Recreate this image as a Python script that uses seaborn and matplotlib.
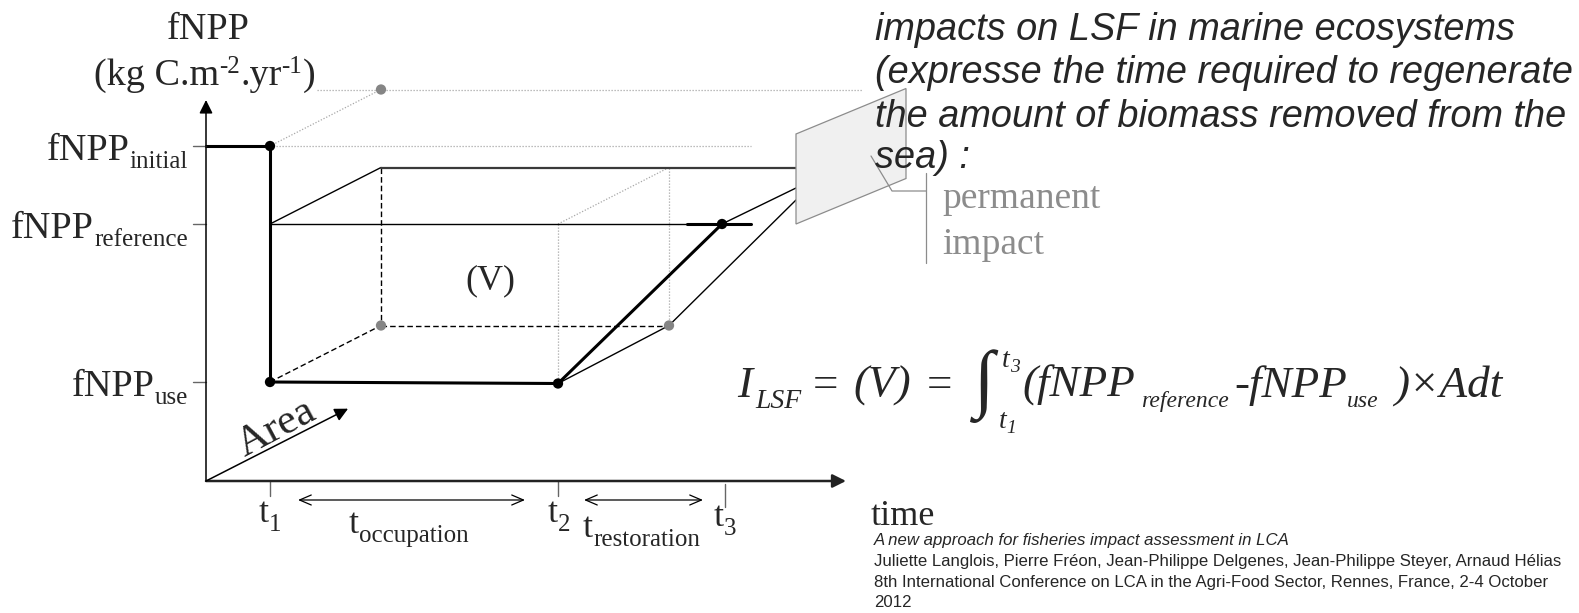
import matplotlib
matplotlib.use("Agg")
import numpy as np
import pandas as pd
import seaborn as sns
import matplotlib.pyplot as plt
from matplotlib.patches import Polygon

# ---------------- data (conceptual units) ----------------
time_names = ["1", "2", "3"]
time_values = [0.64, 3.52, 5.16]            # t1, t2, t3
level_names = ["initial", "reference", "use"]
level_values = [3.35, 2.57, 0.99]           # fNPP levels
use_level_at_t2 = 0.975
area_unit = 1.0
area_axis_length = 1.28
permanent_time = 5.90
permanent_plane_levels = [2.57, 3.47]
permanent_line_levels = [3.135, 2.93, 2.81]  # box top, front restoration, back restoration
x_axis_end = 6.40
y_axis_end = 3.81

para_lines = ["impacts on LSF in marine ecosystems",
              "(expresse the time required to regenerate",
              "the amount of biomass removed from the",
              "sea) :"]
cite_lines = ["A new approach for fisheries impact assessment in LCA",
              "Juliette Langlois, Pierre Fréon, Jean-Philippe Delgenes, Jean-Philippe Steyer, Arnaud Hélias",
              "8th International Conference on LCA in the Agri-Food Sector, Rennes, France, 2-4 October",
              "2012"]

# ---------------- style ----------------
W, H = 1579, 613
OX, OY, S = 206, 481, 100.0   # origin pixel and pixels per unit
AREA_DX, AREA_DY = 1.11, 0.565
PLANE_DX, PLANE_DY = 1.10, 0.455

sns.set_theme(style="white")
plt.rcParams["font.family"] = ["Liberation Serif", "DejaVu Serif"]
SERIF = ["Liberation Serif", "DejaVu Serif"]
SANS = ["Liberation Sans", "DejaVu Sans"]
NARROW = ["Liberation Sans Narrow", "Liberation Sans", "DejaVu Sans"]

fig = plt.figure(figsize=(W / 100, H / 100), dpi=100)
fig.patch.set_facecolor("white")
ax = fig.add_axes([0, 0, 1, 1])


def proj(t, f, a):
    return (t + AREA_DX * a, f + AREA_DY * a)


def px(x, y):
    return ((x - OX) / S, (OY - y) / S)


t1, t2, t3 = time_values
f_init, f_ref, f_use = level_values
tp = permanent_time

thick = dict(color="black", lw=2.2, solid_capstyle="round")
thin = dict(color="black", lw=1.0)
dotted = dict(color="#a8a8a8", lw=0.9, linestyle=(0, (1, 1.4)))
dashed = dict(color="black", lw=1.0, linestyle=(0, (4, 2.2)))


def seg(p, q, **kw):
    ax.plot([p[0], q[0]], [p[1], q[1]], **kw)


# dotted guides
seg((t1, f_init), (px(751, 0)[0], f_init), **dotted)
b_init = proj(t1, f_init, area_unit)
seg((px(317, 0)[0], b_init[1]), (px(862, 0)[0], b_init[1]), **dotted)
seg((t1, f_init), b_init, **dotted)
seg((t2, f_ref), (t2, use_level_at_t2), **dotted)
seg((t2, f_ref), proj(t2, f_ref, area_unit), **dotted)
seg(proj(t2, f_ref, area_unit), proj(t2, f_use, area_unit), **dotted)

# dashed hidden edges
seg(proj(t1, f_ref, area_unit), proj(t1, f_use, area_unit), **dashed)
seg(proj(t1, f_use, area_unit), proj(t2, f_use, area_unit), **dashed)
seg((t1, f_use), proj(t1, f_use, area_unit), **dashed)

# solid edges
seg((t1, f_ref), proj(t1, f_ref, area_unit), **thin)
seg((t1, f_ref), (px(751, 0)[0], f_ref), **thin)
seg((px(687, 0)[0], f_ref), (px(751, 0)[0], f_ref), color="black", lw=2.2)
seg(proj(t1, f_ref, area_unit), (tp, permanent_line_levels[0]), color="#3a3a3a", lw=1.6)
seg((t3, f_ref), (tp, permanent_line_levels[1]), **thin)
seg((t2, use_level_at_t2), proj(t2, f_use, area_unit), **thin)
seg(proj(t2, f_use, area_unit), (tp, permanent_line_levels[2]), **thin)

seg((0, f_init), (t1, f_init), **thick)
seg((t1, f_init), (t1, f_use), **thick)
seg((t1, f_use), (t2, use_level_at_t2), **thick)
seg((t2, use_level_at_t2), (t3, f_ref), **thick)

# permanent impact plane
plane = Polygon([(tp, permanent_plane_levels[0]), (tp, permanent_plane_levels[1]),
                 (tp + PLANE_DX, permanent_plane_levels[1] + PLANE_DY),
                 (tp + PLANE_DX, permanent_plane_levels[0] + PLANE_DY)],
                closed=True, facecolor="#f0f0f0", edgecolor="#8c8c8c", lw=0.9, zorder=3)
ax.add_patch(plane)

# leader lines for "permanent impact"
lead = [px(871, 156), px(892, 191), px(926, 191)]
ax.plot([p[0] for p in lead], [p[1] for p in lead], color="#8c8c8c", lw=0.9, zorder=4)
seg(px(926, 173), px(926, 263), color="#8c8c8c", lw=0.9, zorder=4)

# axes with arrows
ax.annotate("", xy=(0, y_axis_end), xytext=(0, 0),
            arrowprops=dict(arrowstyle="-|>", color="black", lw=1.1, mutation_scale=20,
                            shrinkA=0, shrinkB=0))
ax.annotate("", xy=(x_axis_end, 0), xytext=(0, 0),
            arrowprops=dict(arrowstyle="-|>", color="#222222", lw=1.8, mutation_scale=20,
                            shrinkA=0, shrinkB=0))
ax.annotate("", xy=proj(0, 0, area_axis_length), xytext=(0, 0),
            arrowprops=dict(arrowstyle="-|>", color="black", lw=1.1, mutation_scale=20,
                            shrinkA=0, shrinkB=0))

# ticks
for v in level_values:
    seg((-0.13, v), (0, v), color="#666666", lw=1.0)
for t in time_values[:2]:
    seg((t, 0), (t, -0.15), color="#666666", lw=1.0)
seg((t3 + 0.03, -0.03), (t3 + 0.03, -0.26), color="#666666", lw=1.0)

# double-headed duration arrows
for a, b in [(t1 + 0.28, t2 - 0.33), (t2 + 0.26, t3 - 0.19)]:
    ax.annotate("", xy=(b, -0.19), xytext=(a, -0.19),
                arrowprops=dict(arrowstyle="<->,head_length=0.7,head_width=0.3",
                                color="black", lw=0.9, shrinkA=0, shrinkB=0))

# points
pts = pd.DataFrame({
    "x": [t1, t1, t2, t3,
          proj(t1, f_init, area_unit)[0], proj(t1, f_use, area_unit)[0], proj(t2, f_use, area_unit)[0]],
    "y": [f_init, f_use, use_level_at_t2, f_ref,
          proj(t1, f_init, area_unit)[1], proj(t1, f_use, area_unit)[1], proj(t2, f_use, area_unit)[1]],
    "kind": ["state"] * 4 + ["projected"] * 3,
})
sns.scatterplot(data=pts, x="x", y="y", hue="kind",
                palette={"state": "black", "projected": "#858585"},
                s=55, edgecolor="none", legend=False, ax=ax, zorder=6)

ax.set_xlim(-OX / S, (W - OX) / S)
ax.set_ylim(-(H - OY) / S, OY / S)
ax.axis("off")

# ---------------- text ----------------
renderer = fig.canvas.get_renderer()


def put(x, y, s, size, **kw):
    kw.setdefault("va", "baseline")
    kw.setdefault("family", SERIF)
    return fig.text(x / W, 1 - y / H, s, fontsize=size, **kw)


def width(t):
    return t.get_window_extent(renderer=renderer).width


def seq(x, y, pieces, ha="left", **kw):
    texts = [put(0, y + dy, s, size, **kw) for s, size, dy in pieces]
    ws = [width(t) for t in texts]
    total = sum(ws)
    x0 = x if ha == "left" else (x - total if ha == "right" else x - total / 2)
    for t, w in zip(texts, ws):
        t.set_x(x0 / W)
        x0 += w
    return texts


def fit(t, target):
    t.set_fontsize(t.get_fontsize() * target / width(t))
    return t.get_fontsize()


MAIN, SUB = 27.5, 18

# y-axis title
seq(208, 39, [("fNPP", MAIN, 0)], ha="center")
seq(315, 85, [("(kg C.m", MAIN, 0), ("-2", SUB, -12), (".yr", MAIN, 0), ("-1", SUB, -12), (")", MAIN, 0)],
    ha="right")

# level labels
for name, v in zip(level_names, level_values):
    ypx = OY - v * S
    seq(188, ypx + 14, [("fNPP", MAIN, 0), (name, SUB, 8)], ha="right")

# time labels
seq(259, 522, [("t", 26, 0), (time_names[0], SUB, 9)])
seq(349, 533, [("t", 26, 0), ("occupation", SUB, 9)])
seq(548, 522, [("t", 26, 0), (time_names[1], SUB, 9)])
seq(583, 537, [("t", 26, 0), ("restoration", SUB, 9)])
seq(714, 526, [("t", 26, 0), (time_names[2], SUB, 9)])
put(871, 525, "time", 26)

put(490, 289, "(V)", 26, ha="center")
put(277, 428, "Area", 31, ha="center", va="center", rotation=28, rotation_mode="anchor")

# permanent impact
put(942, 208, "permanent", 27, color="#8c8c8c")
put(942, 254, "impact", 27, color="#8c8c8c")

# equation, assembled piece by piece
EQ, EQS = 32.5, 17
EQB = 397
put(737, EQB, "I", EQ, style="italic")
put(755, EQB + 11, "LSF", 20, style="italic")
put(813, EQB, "=", EQ)
put(853, EQB, "(V)", EQ, style="italic")
put(927, EQB, "=", EQ)
put(974, 386, "\u222b", 54, family=["Liberation Serif", "STIXGeneral", "DejaVu Serif"], va="center")
seq(1002, 367, [("t", 20, 0), ("3", 14, 5)], style="italic")
seq(999, 428, [("t", 20, 0), ("1", 14, 5)], style="italic")
put(1022, EQB, "(fNPP", EQ, style="italic")
put(1141, EQB + 10, "reference", EQS, style="italic")
put(1234, EQB, "-fNPP", EQ, style="italic")
put(1347, EQB + 10, "use", EQS, style="italic")
put(1394, EQB, ")\u00d7Adt", EQ, style="italic")

# paragraph
para_y = [40, 83, 127, 168]
pt = [put(875, y, s, 27, family=SANS, style="italic") for s, y in zip(para_lines, para_y)]
fs = fit(pt[1], 698)
for t in pt:
    t.set_fontsize(fs)

# citation
cite_y = [545, 566, 587, 607]
ct = [put(874, y, s, 12.5, family=NARROW, style="italic" if i == 0 else "normal")
      for i, (s, y) in enumerate(zip(cite_lines, cite_y))]
fs = fit(ct[1], 685)
for t in ct:
    t.set_fontsize(fs)

fig.savefig("out.png", dpi=100, facecolor="white")
